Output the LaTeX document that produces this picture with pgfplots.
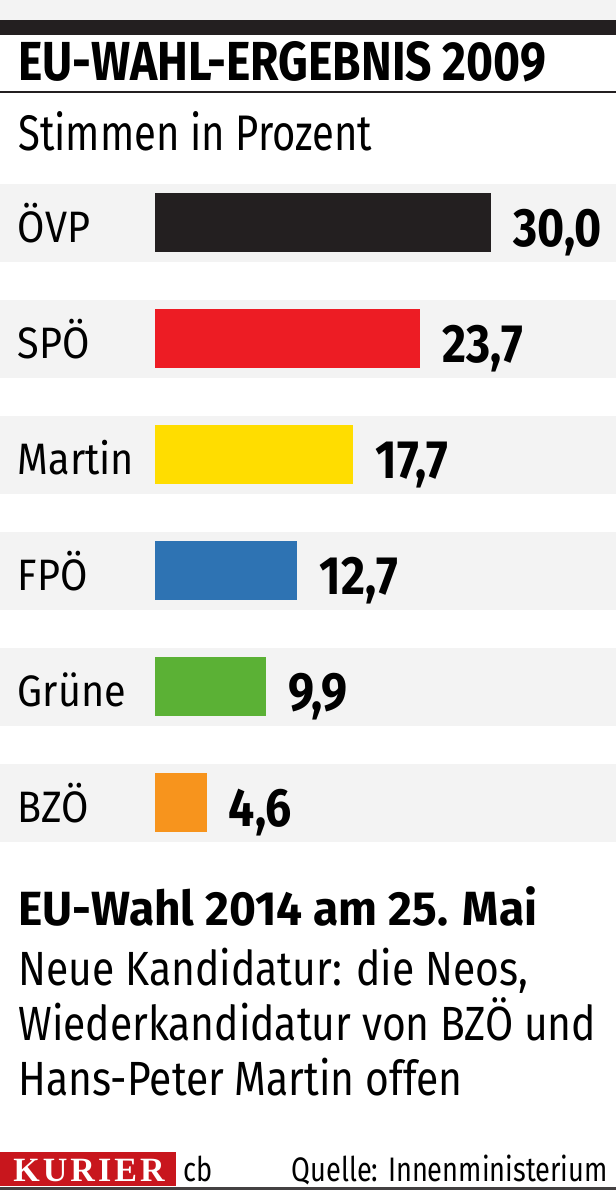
\documentclass[border=0pt]{standalone}
\usepackage{fontspec}
\usepackage{pgfplots}
\pgfplotsset{compat=1.18}
\newfontfamily\condA[FakeStretch=0.84]{Fira Sans}
\newfontfamily\condB[FakeStretch=0.80]{Fira Sans}
\newfontfamily\condC[FakeStretch=0.90]{Fira Sans}
\newfontfamily\condD[FakeStretch=0.86]{Fira Sans}
\newfontfamily\condE[FakeStretch=0.96]{Fira Sans}
\newfontfamily\condF[FakeStretch=0.85]{Fira Sans}
\newfontfamily\cond[FakeStretch=0.80]{Fira Sans}
\newfontfamily\kurierfont[LetterSpace=9]{Liberation Serif}
\definecolor{bandgray}{HTML}{F3F3F3}
\definecolor{ovp}{HTML}{231F20}
\definecolor{spo}{HTML}{ED1C24}
\definecolor{martin}{HTML}{FFDD00}
\definecolor{fpo}{HTML}{2E73B3}
\definecolor{gruene}{HTML}{5BB135}
\definecolor{bzo}{HTML}{F7941D}
\definecolor{kurier}{HTML}{C8161D}

\begin{document}
\begin{tikzpicture}
% layout in pixels of the reference (1 px = 0.5pt)
\begin{scope}[x=0.5pt,y=-0.5pt]
  \useasboundingbox (0,0) rectangle (616,1191);
  \fill[bandgray] (0,0) rectangle (616,20);
  \fill[ovp] (0,20) rectangle (616,35);
  \node[anchor=base west,inner sep=0,font=\condA\bfseries\fontsize{27.5}{27.5}\selectfont] at (18,80) {EU-WAHL-ERGEBNIS 2009};
  \draw[ovp,line width=1pt] (0,92) -- (616,92);
  \node[anchor=base west,inner sep=0,font=\condB\fontsize{25}{25}\selectfont] at (18,150) {Stimmen in Prozent};
  \foreach \c in {222.5,338.5,454.5,570.5,686.5,802.5}
    \fill[bandgray] (0,\c-39) rectangle (616,\c+39);
  \node[anchor=base west,inner sep=0,font=\condE\bfseries\fontsize{24}{24}\selectfont] at (18,925) {EU-Wahl 2014 am 25. Mai};
  \node[anchor=base west,inner sep=0,font=\condF\fontsize{24}{24}\selectfont] at (18,985) {Neue Kandidatur: die Neos,};
  \node[anchor=base west,inner sep=0,font=\condF\fontsize{24}{24}\selectfont] at (18,1040) {Wiederkandidatur von BZÖ und};
  \node[anchor=base west,inner sep=0,font=\condF\fontsize{24}{24}\selectfont] at (18,1095) {Hans-Peter Martin offen};
  \fill[kurier] (0,1152) rectangle (176,1186);
  \node[anchor=base,inner sep=0,text=white,font=\kurierfont\bfseries\fontsize{17}{17}\selectfont] at (89,1181) {KURIER};
  \node[anchor=base west,inner sep=0,font=\cond\fontsize{17}{17}\selectfont] at (183,1181) {cb};
  \node[anchor=base east,inner sep=0,font=\cond\fontsize{17}{17}\selectfont] at (608,1181) {Quelle: Innenministerium};
  \draw[ovp!85,line width=1.5pt] (0,1188) -- (616,1188);
\end{scope}

\begin{axis}[
    at={(77.5pt,-82.25pt)}, anchor=north west,
    scale only axis,
    width=224pt, height=348pt,
    xbar, bar width=29.5pt,
    xmin=0, xmax=40,
    ymin=-0.5, ymax=5.5, y dir=reverse,
    axis line style={draw=none},
    tick style={draw=none},
    xtick=\empty,
    ytick={0,...,5},
    yticklabels={ÖVP,SPÖ,Martin,FPÖ,Grüne,BZÖ},
    yticklabel style={anchor=base west, inner sep=0pt, xshift=-64.5pt, yshift=-10pt,
      font=\condC\fontsize{22}{22}\selectfont},
    nodes near coords,
    nodes near coords align={horizontal},
    every node near coord/.append style={anchor=base west, inner sep=0pt,
      xshift=11pt, yshift=-12pt, text=black,
      font=\condD\bfseries\fontsize{27}{27}\selectfont},
    nodes near coords style={/pgf/number format/.cd, fixed, fixed zerofill,
      precision=1, use comma, assume math mode=true},
    clip=false,
  ]
  \addplot[xbar, draw=none, bar shift=0pt, fill=ovp] coordinates {(30.0,0)};
  \addplot[xbar, draw=none, bar shift=0pt, fill=spo] coordinates {(23.7,1)};
  \addplot[xbar, draw=none, bar shift=0pt, fill=martin] coordinates {(17.7,2)};
  \addplot[xbar, draw=none, bar shift=0pt, fill=fpo] coordinates {(12.7,3)};
  \addplot[xbar, draw=none, bar shift=0pt, fill=gruene] coordinates {(9.9,4)};
  \addplot[xbar, draw=none, bar shift=0pt, fill=bzo] coordinates {(4.6,5)};
\end{axis}
\end{tikzpicture}
\end{document}
